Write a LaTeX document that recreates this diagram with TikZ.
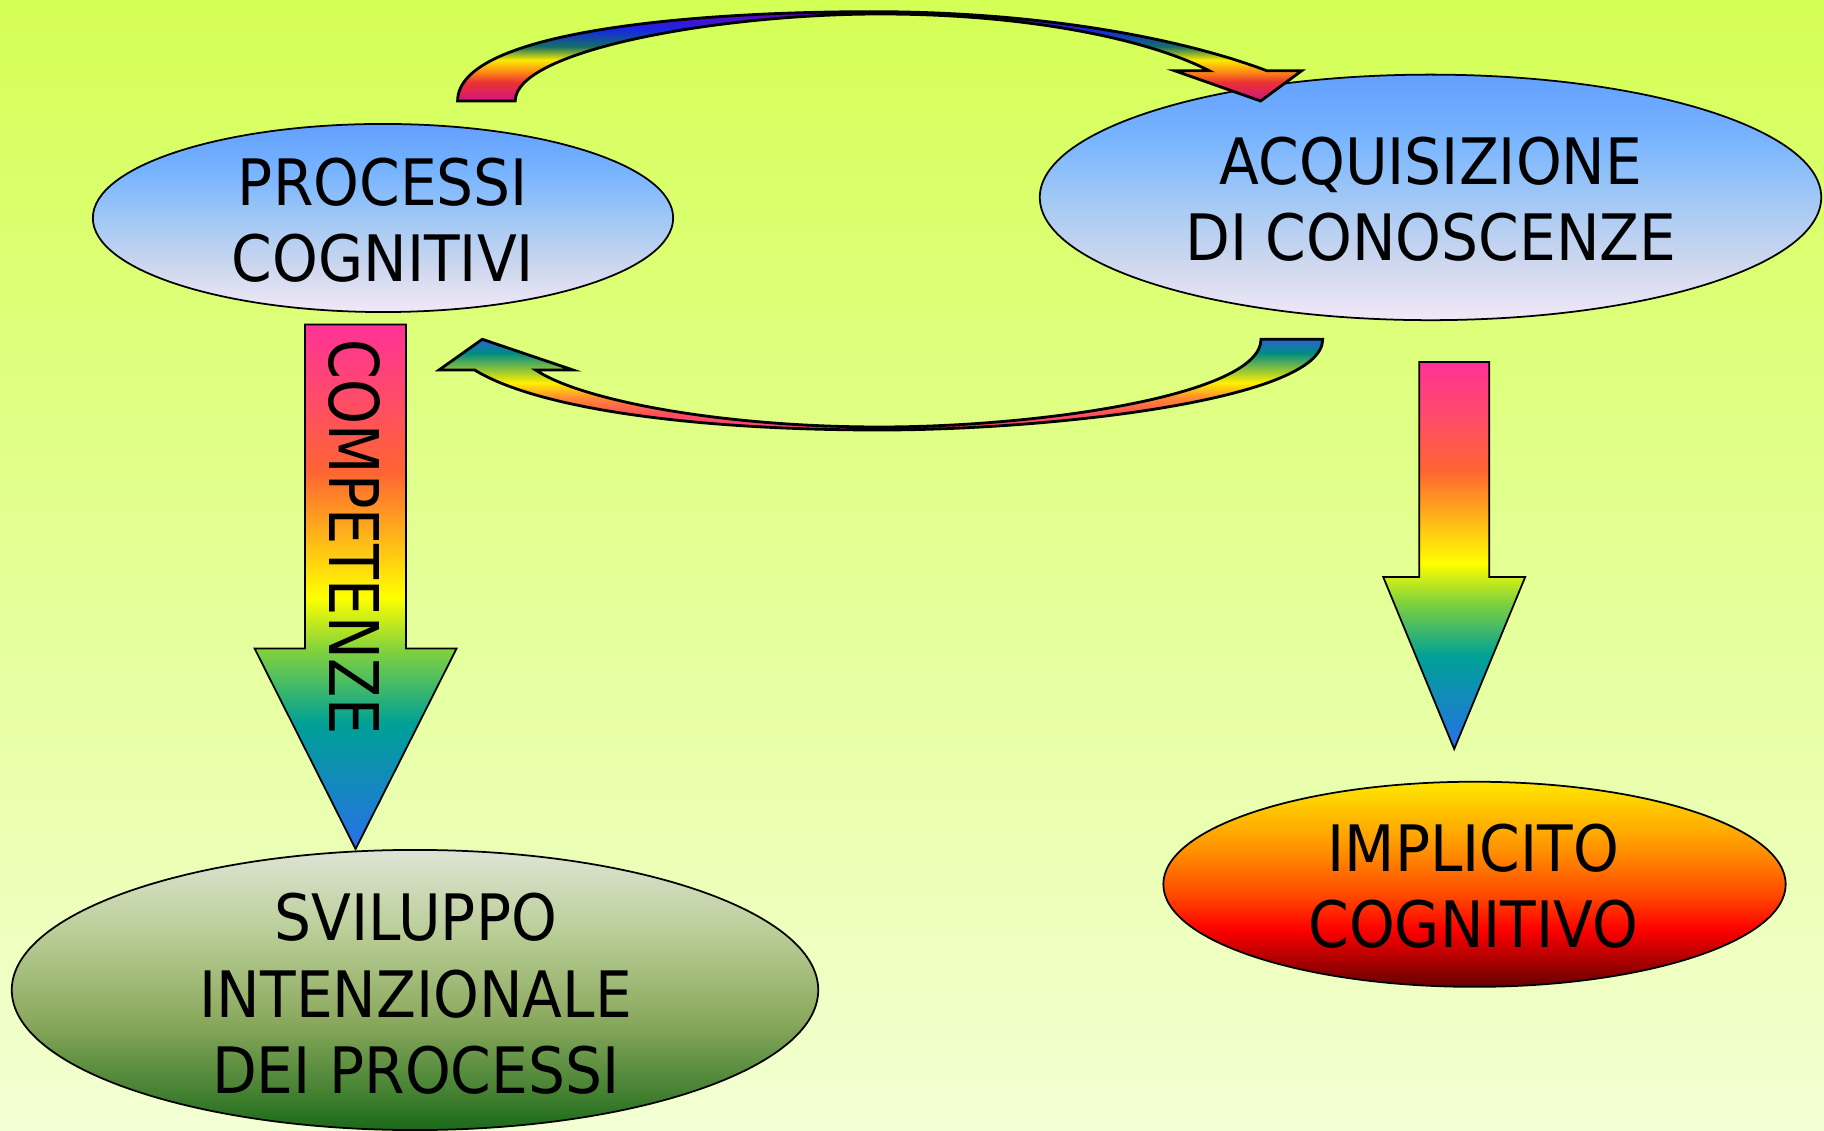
\documentclass[tikz,border=0pt]{standalone}
\usepackage{fontspec}
\setmainfont[FakeStretch=0.91]{DejaVu Sans}
\newfontfamily\vertfont[FakeStretch=0.835]{DejaVu Sans}
\usepackage{tikz}

\definecolor{bgtop}{RGB}{212,255,85}
\definecolor{bgbottom}{RGB}{243,255,212}

\definecolor{rbpink}{RGB}{255,50,150}
\definecolor{rbrose}{RGB}{255,75,105}
\definecolor{rbred}{RGB}{255,100,50}
\definecolor{rborange}{RGB}{255,165,30}
\definecolor{rbyellow}{RGB}{255,255,0}
\definecolor{rblime}{RGB}{130,210,60}
\definecolor{rbteal}{RGB}{0,160,150}
\definecolor{rbblue}{RGB}{40,112,232}

\definecolor{tpviolet}{RGB}{110,0,190}
\definecolor{tpblue}{RGB}{20,40,230}
\definecolor{tpteal}{RGB}{20,110,100}
\definecolor{tpyellow}{RGB}{250,235,0}
\definecolor{tporange}{RGB}{255,140,20}
\definecolor{tpred}{RGB}{235,50,50}
\definecolor{tpmagenta}{RGB}{210,20,130}

\definecolor{btblue}{RGB}{40,100,210}
\definecolor{btteal}{RGB}{0,140,130}
\definecolor{btyellow}{RGB}{255,240,0}
\definecolor{btorange}{RGB}{255,140,50}
\definecolor{btred}{RGB}{255,80,90}
\definecolor{btpink}{RGB}{255,60,130}

\definecolor{bbtop}{RGB}{98,160,255}
\definecolor{bbup}{RGB}{120,180,255}
\definecolor{bbmid}{RGB}{160,200,245}
\definecolor{bblow}{RGB}{205,215,238}
\definecolor{bbbottom}{RGB}{242,232,248}

\definecolor{grtop}{RGB}{222,228,212}
\definecolor{grup}{RGB}{185,205,150}
\definecolor{grmid}{RGB}{140,170,95}
\definecolor{grlow}{RGB}{70,130,50}
\definecolor{grbottom}{RGB}{25,105,25}

\definecolor{fitop}{RGB}{255,232,0}
\definecolor{fiamber}{RGB}{255,175,0}
\definecolor{fiorange}{RGB}{255,140,0}
\definecolor{fiflame}{RGB}{255,70,0}
\definecolor{fired}{RGB}{255,0,0}
\definecolor{fibottom}{RGB}{100,0,0}

\pgfdeclareverticalshading{rainbow}{100bp}{color(0bp)=(rbblue); color(25bp)=(rbblue); color(37bp)=(rbteal); color(44bp)=(rblime); color(49bp)=(rbyellow); color(56bp)=(rborange); color(61bp)=(rbred); color(68bp)=(rbrose); color(75bp)=(rbpink); color(100bp)=(rbpink)}
\pgfdeclareverticalshading{arcover}{100bp}{color(0bp)=(tpmagenta); color(25bp)=(tpmagenta); color(35.5bp)=(tpred); color(41.5bp)=(tporange); color(48bp)=(tpyellow); color(55.5bp)=(tpteal); color(65bp)=(tpblue); color(75bp)=(tpviolet); color(100bp)=(tpviolet)}
\pgfdeclareverticalshading{arcunder}{100bp}{color(0bp)=(btpink); color(25bp)=(btpink); color(34.5bp)=(btred); color(43bp)=(btorange); color(51bp)=(btyellow); color(67.5bp)=(btteal); color(75bp)=(btblue); color(100bp)=(btblue)}
\pgfdeclareverticalshading{bluebub}{100bp}{color(0bp)=(bbbottom); color(25bp)=(bbbottom); color(37bp)=(bblow); color(50bp)=(bbmid); color(62bp)=(bbup); color(75bp)=(bbtop); color(100bp)=(bbtop)}
\pgfdeclareverticalshading{greenbub}{100bp}{color(0bp)=(grbottom); color(25bp)=(grbottom); color(32bp)=(grlow); color(45bp)=(grmid); color(60bp)=(grup); color(75bp)=(grtop); color(100bp)=(grtop)}
\pgfdeclareverticalshading{firebub}{100bp}{color(0bp)=(fibottom); color(25bp)=(fibottom); color(39bp)=(fired); color(47bp)=(fiflame); color(57.5bp)=(fiorange); color(64bp)=(fiamber); color(75bp)=(fitop); color(100bp)=(fitop)}

\def\blockarrow(#1:#2:#3:#4:#5:#6){\draw[arrowline, shading=rainbow] ({#1-#3},#2) -- ({#1+#3},#2) -- ({#1+#3},#4) -- ({#1+#5},#4) -- (#1,#6) -- ({#1-#5},#4) -- ({#1-#3},#4) -- cycle;}

\begin{document}
\begin{tikzpicture}[x=0.01cm, y=-0.01cm,
	bubble/.style={draw=black, line width=0.5pt},
	arrowline/.style={draw=black, line width=0.5pt},
	arcline/.style={draw=black, line width=0.8pt},
	bubbletext/.style={align=center, text=black, inner sep=0pt, font=\fontsize{18.2}{21.7}\selectfont}]
		%%%%% START %%%%%
		\useasboundingbox (0,0) rectangle (1824,1131);
		\fill[top color=bgtop, bottom color=bgbottom] (0,0) rectangle (1824,1131);
		
		\draw[bubble, shading=bluebub] (383,218) ellipse [x radius=2.9cm, y radius=0.94cm];
		\draw[bubble, shading=bluebub] (1430.5,197.4) ellipse [x radius=3.905cm, y radius=1.227cm];
		\draw[bubble, shading=greenbub] (415,990) ellipse [x radius=4.03cm, y radius=1.4cm];
		\draw[bubble, shading=firebub] (1474.5,884.3) ellipse [x radius=3.11cm, y radius=1.025cm];
		
		\blockarrow(355.6:324.6:50.5:648.5:101:849)
		\blockarrow(1454.2:362:35:577:71:749)
		
		\draw[arcline, shading=arcover] (457.6,101) .. controls (457.6,30) and (700,11.7) .. (872,11.7) .. controls (1040,11.7) and (1180,38) .. (1266.7,70.7) -- (1301.8,70.7) -- (1260.6,101) -- (1174.5,70.7) -- (1209,70.7) .. controls (1150,40) and (1030,14) .. (880,14) .. controls (720,14) and (515.2,50) .. (515.2,101) -- cycle;
		
		\draw[arcline, shading=arcunder] (1261,339.3) -- (1322.7,339.3) .. controls (1322.7,400) and (1050,430) .. (880,430) .. controls (700,430) and (540,410) .. (474.6,370) -- (439,370) -- (482.3,339.3) -- (573,370) -- (535.7,370) .. controls (580,400) and (720,427) .. (880,427) .. controls (1040,427) and (1261,395) .. (1261,339.3) -- cycle;
		
		\node[bubbletext] (proc) at (383,220.5) {PROCESSI\\COGNITIVI};
		\node[bubbletext] (acq) at (1431,199.5) {ACQUISIZIONE\\DI CONOSCENZE};
		\node[bubbletext] (svil) at (415.8,994) {SVILUPPO\\INTENZIONALE\\DEI PROCESSI};
		\node[bubbletext] (impl) at (1473.3,886) {IMPLICITO\\COGNITIVO};
		\node[inner sep=0pt, rotate=-90, font=\vertfont\fontsize{19.5}{23}\selectfont] (comp) at (354.5,537) {COMPETENZE};
		%%%%% END %%%%%
\end{tikzpicture}
\end{document}
